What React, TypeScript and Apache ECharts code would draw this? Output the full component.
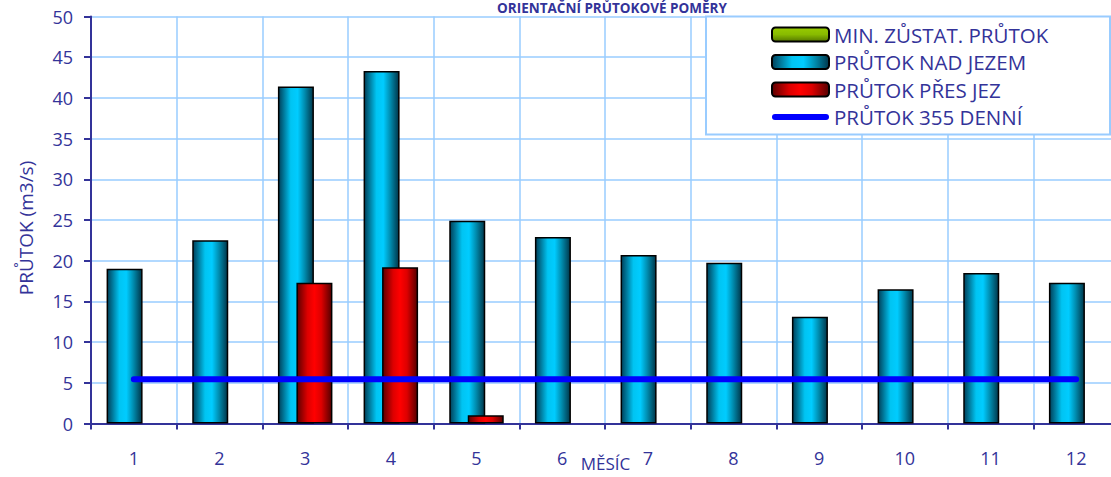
import React, { useEffect, useRef } from 'react';
import * as echarts from 'echarts';

const months = ['1', '2', '3', '4', '5', '6', '7', '8', '9', '10', '11', '12'];
const minResidualFlow = [0, 0, 0, 0, 0, 0, 0, 0, 0, 0, 0, 0];
const flowAboveWeir = [19.0, 22.5, 41.4, 43.3, 24.9, 22.9, 20.7, 19.75, 13.1, 16.5, 18.5, 17.3];
const flowOverWeir = [0, 0, 17.3, 19.2, 1.0, 0, 0, 0, 0, 0, 0, 0];
const flow355Day = [5.45, 5.45, 5.45, 5.45, 5.45, 5.45, 5.45, 5.45, 5.45, 5.45, 5.45, 5.45];
const emptySlot = [null, null, null, null, null, null, null, null, null, null, null, null];

const seriesNames = ['MIN. ZŮSTAT. PRŮTOK', 'PRŮTOK NAD JEZEM', 'PRŮTOK PŘES JEZ', 'PRŮTOK 355 DENNÍ'];

const NAVY = '#333399';
const GRID = '#99ccff';
const FONT = 'Open Sans';

const hideZero = (arr: (number | null)[]) => arr.map((v) => (v === null || v === 0 ? '-' : v));

export default function App() {
  const ref = useRef<HTMLDivElement>(null);

  useEffect(() => {
    const chart = echarts.init(ref.current!, null, { renderer: 'svg' });

    const cyan = new echarts.graphic.LinearGradient(0, 0, 1, 0, [
      { offset: 0, color: '#00405a' },
      { offset: 0.15, color: '#00789a' },
      { offset: 0.35, color: '#00c4f2' },
      { offset: 0.55, color: '#00ccff' },
      { offset: 0.75, color: '#008db0' },
      { offset: 1, color: '#00364a' },
    ]);
    const red = new echarts.graphic.LinearGradient(0, 0, 1, 0, [
      { offset: 0, color: '#5c0000' },
      { offset: 0.3, color: '#dd0000' },
      { offset: 0.5, color: '#ff0000' },
      { offset: 0.7, color: '#dd0000' },
      { offset: 1, color: '#550000' },
    ]);
    const green = new echarts.graphic.LinearGradient(0, 0, 0, 1, [
      { offset: 0, color: '#99cc00' },
      { offset: 0.5, color: '#88bb00' },
      { offset: 1, color: '#557700' },
    ]);

    const barCommon = {
      type: 'bar' as const,
      barWidth: 36,
      barGap: '-48.6%',
      animation: false,
    };

    chart.setOption({
      animation: false,
      backgroundColor: '#ffffff',
      grid: { left: 91, right: -8, top: 16.5, bottom: 53.5, containLabel: false, outerBoundsMode: 'none' },
      legend: {
        data: [
          { name: seriesNames[0] },
          { name: seriesNames[1] },
          { name: seriesNames[2] },
          {
            name: seriesNames[3],
            icon: 'path://M3,0 L54,0 A3,3 0 0 1 54,6 L3,6 A3,3 0 0 1 3,0 Z',
            itemStyle: { color: '#0000ff', borderWidth: 0 },
          },
        ],
        orient: 'vertical',
        left: 771,
        top: 24,
        padding: 0,
        itemWidth: 57,
        itemHeight: 14,
        itemGap: 6.5,
        selectedMode: false,
        textStyle: { color: NAVY, fontFamily: FONT, fontSize: 20.5, lineHeight: 20 },
        z: 5,
      },
      graphic: [
        {
          type: 'rect',
          z: 3,
          shape: { x: 706, y: 16.5, width: 404, height: 118 },
          style: { fill: '#ffffff', stroke: GRID, lineWidth: 2 },
        },
        {
          type: 'text',
          z: 3,
          x: 612,
          y: 0.5,
          style: {
            text: 'ORIENTAČNÍ PRŮTOKOVÉ POMĚRY',
            fill: NAVY,
            fontFamily: FONT,
            fontSize: 13.5,
            fontWeight: 'bold',
            align: 'center',
            verticalAlign: 'top',
          },
        },
        {
          type: 'text',
          z: 3,
          x: 26,
          y: 228,
          rotation: Math.PI / 2,
          style: {
            text: 'PRŮTOK (m3/s)',
            fill: NAVY,
            fontFamily: FONT,
            fontSize: 19,
            align: 'center',
            verticalAlign: 'middle',
          },
        },
        {
          type: 'text',
          z: 3,
          x: 605.5,
          y: 455,
          style: {
            text: 'MĚSÍC',
            fill: NAVY,
            fontFamily: FONT,
            fontSize: 17,
            align: 'center',
            verticalAlign: 'top',
          },
        },
      ],
      xAxis: {
        type: 'category',
        data: months,
        boundaryGap: true,
        axisLine: { show: true, lineStyle: { color: NAVY, width: 2 } },
        axisTick: { show: true, interval: 0, length: 6, lineStyle: { color: NAVY, width: 2 } },
        axisLabel: { interval: 0, color: NAVY, fontFamily: FONT, fontSize: 18, margin: 25 },
        splitLine: { show: true, interval: 0, lineStyle: { color: GRID, width: 1.5 } },
      },
      yAxis: {
        type: 'value',
        min: 0,
        max: 50,
        interval: 5,
        axisLine: { show: true, lineStyle: { color: NAVY, width: 2 } },
        axisTick: { show: true, length: 7, lineStyle: { color: NAVY, width: 2 } },
        axisLabel: { color: NAVY, fontFamily: FONT, fontSize: 18, margin: 18 },
        splitLine: { show: true, lineStyle: { color: GRID, width: 1.5 } },
      },
      series: [
        {
          ...barCommon,
          name: seriesNames[0],
          data: hideZero(minResidualFlow),
          itemStyle: { color: green, borderColor: '#000', borderWidth: 1.5 },
        },
        {
          ...barCommon,
          name: seriesNames[1],
          data: hideZero(flowAboveWeir),
          itemStyle: { color: cyan, borderColor: '#000', borderWidth: 1.5 },
        },
        {
          ...barCommon,
          name: seriesNames[2],
          data: hideZero(flowOverWeir),
          itemStyle: { color: red, borderColor: '#000', borderWidth: 1.5 },
        },
        {
          ...barCommon,
          name: 'rezerva',
          data: hideZero(emptySlot),
          itemStyle: { color: '#ffffff' },
        },
        {
          type: 'line',
          name: seriesNames[3],
          data: flow355Day,
          symbol: 'none',
          z: 6,
          lineStyle: { color: '#0000ff', width: 6, cap: 'round' },
          itemStyle: { color: '#0000ff' },
        },
      ],
    });

    return () => chart.dispose();
  }, []);

  return (
    <div style={{ position: 'fixed', left: 0, top: 0, width: 1111, height: 477, background: '#fff', overflow: 'hidden' }}>
      <div ref={ref} style={{ width: 1111, height: 477 }} />
    </div>
  );
}
